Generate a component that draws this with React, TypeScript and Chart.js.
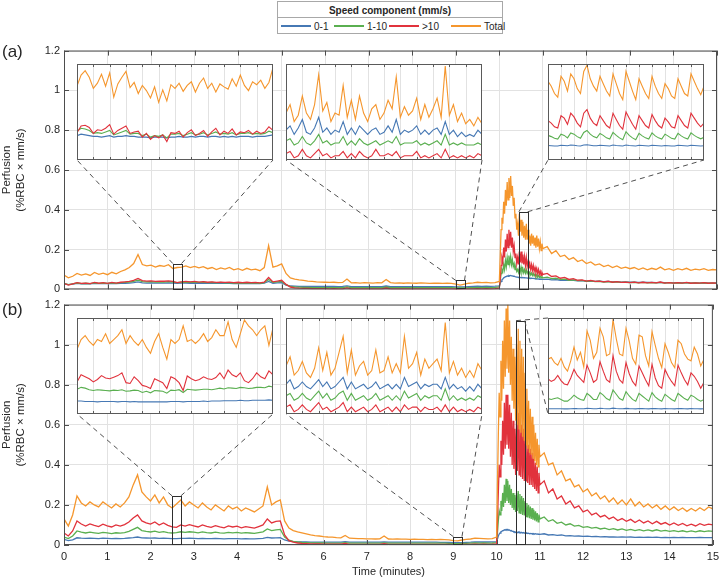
import React, { useEffect, useRef } from "react";
import { Chart, registerables } from "chart.js";
Chart.register(...registerables);

const FONT = '"Liberation Sans", Arial, Helvetica, sans-serif';
const TEXT = "#262626";
const GRID = "#e2e2e2";
const BOX = "#4d4d4d";

const C_BLUE = "#4678b4";
const C_GREEN = "#5aaf50";
const C_RED = "#e1323c";
const C_TOTAL = "#f5962d";

const legendTitle = "Speed component (mm/s)";
const legendLabels = ["0-1", "1-10", ">10", "Total"];
const legendColors = [C_BLUE, C_GREEN, C_RED, C_TOTAL];
const xAxisTitle = "Time (minutes)";
const yAxisTitle = ["Perfusion", "(%RBC \u00d7 mm/s)"];
const panelLabels = ["(a)", "(b)"];

// sampling grid of the main traces: [start min, step min, count]
const timeSegments = [[0, 0.1, 100], [10, 0.02, 50], [11, 0.1, 41]];
const timeGrid: number[] = timeSegments.flatMap(([s, st, n]) =>
  Array.from({ length: n }, (_, i) => +(s + i * st).toFixed(3))
);
// inset windows: 12 s sampled every 0.25 s
const INSET_STEP = 0.25;
const INSET_SECONDS = 12;

// ---------------- panel (a) ----------------
const aTotal = [
  0.072,0.058,0.066,0.080,0.072,0.078,0.070,0.085,0.076,0.082,
  0.074,0.086,0.078,0.090,0.098,0.110,0.130,0.175,0.125,0.118,
  0.122,0.112,0.120,0.116,0.124,0.105,0.110,0.112,0.118,0.110,
  0.116,0.108,0.114,0.104,0.110,0.100,0.108,0.102,0.110,0.098,
  0.104,0.096,0.106,0.098,0.102,0.094,0.110,0.220,0.112,0.118,
  0.128,0.080,0.058,0.052,0.048,0.045,0.042,0.040,0.038,0.037,
  0.036,0.035,0.036,0.034,0.035,0.052,0.033,0.034,0.032,0.034,
  0.033,0.032,0.034,0.033,0.050,0.034,0.032,0.033,0.031,0.033,
  0.032,0.031,0.033,0.032,0.030,0.032,0.031,0.030,0.032,0.030,
  0.026,0.022,0.027,0.031,0.033,0.036,0.034,0.035,0.033,0.034,
  // 10.00 - 10.98
  0.040,0.160,0.300,0.360,0.330,0.440,0.380,0.500,0.420,0.540,
  0.450,0.560,0.460,0.570,0.470,0.520,0.420,0.460,0.360,0.380,
  0.300,0.330,0.270,0.380,0.290,0.350,0.270,0.340,0.260,0.320,
  0.250,0.330,0.250,0.300,0.230,0.270,0.220,0.280,0.230,0.270,
  0.220,0.260,0.210,0.270,0.215,0.255,0.205,0.240,0.195,0.230,
  // 11.0 - 15.0
  0.205,0.215,0.180,0.195,0.165,0.172,0.150,0.160,0.140,0.148,
  0.130,0.138,0.122,0.128,0.115,0.122,0.110,0.118,0.106,0.112,
  0.104,0.110,0.100,0.108,0.098,0.106,0.100,0.112,0.098,0.104,
  0.096,0.104,0.098,0.106,0.096,0.102,0.098,0.104,0.096,0.100,0.098,
];
const aRed = [
  0.030,0.022,0.028,0.034,0.030,0.032,0.029,0.035,0.031,0.034,
  0.030,0.035,0.032,0.036,0.038,0.040,0.045,0.055,0.044,0.042,
  0.043,0.040,0.042,0.041,0.043,0.040,0.034,0.038,0.040,0.038,
  0.040,0.037,0.039,0.036,0.038,0.035,0.037,0.035,0.037,0.034,
  0.036,0.034,0.036,0.034,0.035,0.033,0.036,0.060,0.038,0.042,
  0.046,0.025,0.012,0.008,0.006,0.005,0.005,0.004,0.004,0.004,
  0.004,0.003,0.004,0.003,0.003,0.008,0.003,0.003,0.003,0.003,
  0.003,0.003,0.003,0.003,0.007,0.003,0.003,0.003,0.003,0.003,
  0.003,0.003,0.003,0.003,0.003,0.003,0.003,0.003,0.003,0.003,
  0.002,0.002,0.003,0.003,0.003,0.004,0.003,0.004,0.003,0.004,
  0.006,0.050,0.120,0.160,0.140,0.210,0.160,0.250,0.190,0.280,
  0.210,0.300,0.220,0.290,0.210,0.260,0.190,0.220,0.160,0.180,
  0.130,0.160,0.125,0.190,0.135,0.190,0.130,0.175,0.125,0.165,
  0.120,0.160,0.115,0.140,0.105,0.130,0.100,0.125,0.095,0.120,
  0.090,0.110,0.085,0.105,0.080,0.100,0.075,0.090,0.070,0.085,
  0.075,0.080,0.065,0.068,0.056,0.060,0.050,0.054,0.046,0.048,
  0.042,0.045,0.040,0.042,0.038,0.041,0.036,0.039,0.035,0.037,
  0.034,0.037,0.033,0.036,0.033,0.035,0.033,0.037,0.032,0.034,
  0.032,0.034,0.032,0.035,0.031,0.033,0.032,0.034,0.031,0.033,0.032,
];
const aGreen = [
  0.030,0.024,0.028,0.032,0.029,0.031,0.029,0.033,0.030,0.032,
  0.030,0.033,0.031,0.034,0.035,0.037,0.040,0.046,0.039,0.038,
  0.039,0.037,0.038,0.037,0.039,0.037,0.034,0.036,0.037,0.036,
  0.037,0.035,0.036,0.034,0.035,0.033,0.035,0.033,0.034,0.032,
  0.033,0.032,0.033,0.032,0.033,0.031,0.034,0.050,0.035,0.038,
  0.040,0.024,0.015,0.012,0.011,0.010,0.010,0.009,0.009,0.009,
  0.009,0.009,0.009,0.009,0.009,0.013,0.009,0.009,0.009,0.009,
  0.009,0.009,0.009,0.009,0.012,0.009,0.009,0.009,0.009,0.009,
  0.009,0.009,0.009,0.009,0.009,0.009,0.009,0.009,0.009,0.009,
  0.008,0.008,0.008,0.009,0.009,0.010,0.009,0.010,0.009,0.010,
  0.012,0.040,0.080,0.100,0.090,0.125,0.100,0.145,0.115,0.160,
  0.125,0.170,0.130,0.165,0.125,0.150,0.115,0.130,0.100,0.110,
  0.090,0.100,0.085,0.110,0.088,0.112,0.086,0.105,0.084,0.100,
  0.082,0.098,0.080,0.090,0.075,0.085,0.072,0.082,0.070,0.080,
  0.068,0.076,0.065,0.074,0.062,0.070,0.060,0.066,0.058,0.064,
  0.058,0.062,0.054,0.056,0.050,0.052,0.046,0.048,0.044,0.045,
  0.041,0.043,0.039,0.041,0.037,0.039,0.036,0.038,0.035,0.036,
  0.034,0.036,0.033,0.035,0.033,0.034,0.033,0.035,0.032,0.034,
  0.032,0.033,0.032,0.034,0.031,0.033,0.032,0.033,0.031,0.032,0.032,
];
const aBlue = [
  0.028,0.024,0.027,0.030,0.028,0.029,0.028,0.030,0.029,0.030,
  0.029,0.030,0.029,0.031,0.031,0.032,0.034,0.038,0.033,0.032,
  0.033,0.032,0.032,0.032,0.033,0.032,0.031,0.032,0.032,0.031,
  0.032,0.031,0.031,0.030,0.031,0.030,0.031,0.030,0.030,0.029,
  0.030,0.029,0.030,0.029,0.030,0.029,0.031,0.040,0.031,0.033,
  0.034,0.022,0.017,0.016,0.015,0.015,0.015,0.015,0.015,0.015,
  0.015,0.015,0.015,0.014,0.015,0.018,0.014,0.014,0.014,0.014,
  0.014,0.014,0.014,0.014,0.017,0.014,0.014,0.014,0.014,0.014,
  0.014,0.014,0.014,0.014,0.014,0.014,0.014,0.014,0.014,0.014,
  0.013,0.013,0.013,0.014,0.015,0.016,0.015,0.016,0.015,0.016,
  0.018,0.030,0.040,0.048,0.052,0.058,0.060,0.064,0.064,0.068,
  0.066,0.070,0.068,0.070,0.068,0.068,0.066,0.066,0.064,0.064,
  0.062,0.062,0.060,0.061,0.059,0.060,0.059,0.060,0.058,0.059,
  0.058,0.058,0.057,0.058,0.056,0.057,0.055,0.056,0.055,0.055,
  0.054,0.055,0.053,0.054,0.052,0.053,0.051,0.052,0.050,0.051,
  0.050,0.052,0.048,0.049,0.046,0.047,0.045,0.045,0.043,0.044,
  0.041,0.042,0.040,0.041,0.039,0.040,0.038,0.039,0.037,0.038,
  0.036,0.037,0.035,0.036,0.035,0.035,0.034,0.035,0.034,0.034,
  0.033,0.034,0.033,0.034,0.032,0.033,0.032,0.033,0.032,0.032,0.032,
];

// ---------------- panel (b) ----------------
const bTotal = [
  0.130,0.095,0.150,0.245,0.210,0.195,0.215,0.200,0.190,0.215,
  0.200,0.185,0.205,0.190,0.210,0.240,0.300,0.350,0.265,0.240,
  0.220,0.250,0.210,0.240,0.200,0.185,0.205,0.225,0.195,0.215,
  0.200,0.185,0.210,0.190,0.175,0.200,0.185,0.170,0.195,0.180,
  0.190,0.170,0.185,0.175,0.165,0.180,0.195,0.290,0.200,0.215,
  0.225,0.120,0.085,0.072,0.065,0.060,0.055,0.050,0.047,0.045,
  0.042,0.040,0.039,0.037,0.036,0.048,0.034,0.033,0.032,0.032,
  0.031,0.031,0.030,0.031,0.045,0.030,0.029,0.030,0.029,0.029,
  0.028,0.029,0.028,0.028,0.027,0.028,0.027,0.028,0.027,0.026,
  0.022,0.021,0.025,0.028,0.030,0.034,0.033,0.032,0.031,0.032,
  0.040,0.300,0.550,0.760,0.640,0.920,0.720,1.020,0.780,1.120,
  0.840,1.180,0.880,1.200,0.860,1.120,0.800,1.040,0.720,0.980,
  0.680,0.940,0.620,1.000,0.600,1.080,0.580,1.020,0.560,0.980,
  0.540,0.940,0.520,0.860,0.500,0.780,0.480,0.720,0.460,0.680,
  0.450,0.640,0.430,0.600,0.420,0.560,0.400,0.530,0.390,0.500,
  0.440,0.460,0.400,0.410,0.350,0.370,0.320,0.330,0.290,0.300,
  0.265,0.280,0.245,0.260,0.230,0.245,0.215,0.235,0.205,0.225,
  0.200,0.230,0.195,0.215,0.190,0.205,0.185,0.200,0.178,0.195,
  0.175,0.190,0.172,0.185,0.168,0.182,0.170,0.186,0.172,0.190,0.180,
];
const bRed = [
  0.060,0.045,0.070,0.120,0.105,0.095,0.105,0.098,0.092,0.104,
  0.096,0.090,0.100,0.094,0.102,0.115,0.135,0.150,0.120,0.110,
  0.104,0.115,0.100,0.110,0.098,0.090,0.088,0.100,0.094,0.102,
  0.096,0.090,0.100,0.093,0.088,0.097,0.091,0.086,0.095,0.090,
  0.094,0.086,0.092,0.088,0.084,0.092,0.100,0.130,0.110,0.118,
  0.120,0.050,0.022,0.014,0.010,0.008,0.007,0.006,0.005,0.005,
  0.004,0.004,0.004,0.004,0.004,0.008,0.003,0.003,0.003,0.003,
  0.003,0.003,0.003,0.003,0.007,0.003,0.003,0.003,0.003,0.003,
  0.003,0.003,0.003,0.003,0.003,0.003,0.003,0.003,0.003,0.003,
  0.002,0.002,0.003,0.003,0.003,0.004,0.003,0.004,0.003,0.004,
  0.006,0.120,0.260,0.400,0.340,0.520,0.400,0.620,0.450,0.710,
  0.480,0.750,0.500,0.750,0.480,0.700,0.440,0.660,0.400,0.620,
  0.380,0.580,0.350,0.620,0.370,0.660,0.350,0.620,0.340,0.600,
  0.330,0.580,0.320,0.540,0.320,0.520,0.310,0.500,0.300,0.480,
  0.300,0.460,0.290,0.430,0.280,0.410,0.270,0.390,0.260,0.360,
  0.300,0.320,0.260,0.280,0.230,0.245,0.205,0.220,0.185,0.195,
  0.165,0.175,0.150,0.160,0.140,0.148,0.130,0.140,0.122,0.132,
  0.118,0.128,0.112,0.125,0.110,0.120,0.106,0.118,0.104,0.112,
  0.100,0.110,0.098,0.108,0.096,0.104,0.095,0.106,0.098,0.104,0.100,
];
const bGreen = [
  0.040,0.032,0.045,0.070,0.064,0.060,0.064,0.061,0.058,0.063,
  0.060,0.057,0.061,0.059,0.062,0.068,0.078,0.088,0.072,0.068,
  0.065,0.069,0.063,0.067,0.062,0.060,0.062,0.066,0.063,0.066,
  0.064,0.061,0.065,0.062,0.060,0.064,0.061,0.059,0.063,0.061,
  0.063,0.059,0.062,0.060,0.058,0.062,0.066,0.080,0.072,0.076,
  0.078,0.040,0.024,0.018,0.015,0.013,0.012,0.011,0.010,0.010,
  0.010,0.009,0.009,0.009,0.009,0.012,0.009,0.009,0.009,0.009,
  0.009,0.009,0.009,0.009,0.011,0.009,0.009,0.009,0.009,0.009,
  0.009,0.009,0.009,0.009,0.009,0.009,0.009,0.009,0.009,0.008,
  0.007,0.007,0.008,0.008,0.009,0.010,0.009,0.010,0.009,0.010,
  0.012,0.060,0.120,0.170,0.150,0.220,0.170,0.260,0.190,0.300,
  0.210,0.330,0.220,0.320,0.210,0.300,0.200,0.280,0.185,0.260,
  0.175,0.250,0.165,0.260,0.170,0.270,0.160,0.255,0.155,0.245,
  0.150,0.235,0.148,0.220,0.142,0.210,0.138,0.200,0.134,0.192,
  0.130,0.184,0.126,0.176,0.122,0.168,0.118,0.160,0.115,0.152,
  0.130,0.140,0.118,0.126,0.108,0.114,0.100,0.106,0.094,0.098,
  0.088,0.092,0.084,0.088,0.080,0.084,0.077,0.082,0.075,0.080,
  0.073,0.078,0.072,0.077,0.071,0.075,0.070,0.076,0.069,0.073,
  0.068,0.072,0.067,0.071,0.066,0.070,0.066,0.071,0.067,0.070,0.068,
];
const bBlue = [
  0.028,0.022,0.026,0.036,0.034,0.033,0.034,0.033,0.032,0.034,
  0.033,0.032,0.033,0.032,0.033,0.035,0.037,0.040,0.036,0.035,
  0.034,0.035,0.033,0.034,0.033,0.032,0.032,0.033,0.033,0.034,
  0.033,0.032,0.033,0.032,0.032,0.033,0.032,0.031,0.032,0.032,
  0.032,0.031,0.032,0.031,0.031,0.032,0.033,0.038,0.035,0.036,
  0.037,0.025,0.019,0.017,0.016,0.015,0.015,0.014,0.014,0.014,
  0.014,0.014,0.014,0.014,0.014,0.017,0.014,0.014,0.014,0.014,
  0.014,0.014,0.014,0.014,0.016,0.014,0.014,0.014,0.014,0.014,
  0.014,0.014,0.014,0.014,0.014,0.014,0.014,0.013,0.013,0.013,
  0.012,0.012,0.012,0.013,0.014,0.016,0.015,0.016,0.015,0.016,
  0.016,0.030,0.045,0.055,0.060,0.066,0.068,0.072,0.072,0.076,
  0.074,0.078,0.075,0.078,0.074,0.075,0.071,0.072,0.068,0.069,
  0.065,0.066,0.062,0.064,0.061,0.065,0.061,0.064,0.060,0.063,
  0.060,0.062,0.059,0.061,0.058,0.060,0.057,0.059,0.056,0.058,
  0.056,0.058,0.055,0.057,0.054,0.056,0.054,0.055,0.053,0.054,
  0.053,0.056,0.050,0.052,0.048,0.050,0.046,0.047,0.044,0.045,
  0.043,0.044,0.042,0.043,0.041,0.042,0.040,0.041,0.039,0.040,
  0.039,0.040,0.038,0.039,0.038,0.039,0.038,0.039,0.037,0.038,
  0.037,0.038,0.037,0.038,0.037,0.037,0.037,0.038,0.037,0.037,0.037,
];

// ---------------- insets (49 samples, 0.25 s apart) ----------------
const a1Total = [
  0.100,0.115,0.121,0.112,0.097,0.104,0.116,0.100,0.118,0.085,
  0.103,0.112,0.120,0.098,0.105,0.090,0.101,0.094,0.084,0.099,
  0.078,0.095,0.080,0.102,0.097,0.104,0.093,0.101,0.106,0.092,
  0.104,0.111,0.097,0.104,0.092,0.103,0.099,0.096,0.110,0.100,
  0.115,0.101,0.094,0.106,0.102,0.108,0.097,0.105,0.125,
];
const a1Red = [
  0.037,0.046,0.047,0.044,0.036,0.041,0.040,0.043,0.048,0.035,
  0.040,0.043,0.046,0.036,0.038,0.039,0.031,0.036,0.028,0.033,
  0.030,0.034,0.025,0.037,0.036,0.039,0.031,0.037,0.041,0.033,
  0.036,0.040,0.032,0.038,0.043,0.034,0.039,0.036,0.042,0.034,
  0.038,0.037,0.040,0.035,0.039,0.036,0.038,0.045,0.040,
];
const a1Green = [
  0.039,0.043,0.042,0.040,0.036,0.037,0.036,0.038,0.040,0.034,
  0.036,0.038,0.040,0.035,0.036,0.036,0.033,0.035,0.031,0.033,
  0.032,0.034,0.030,0.035,0.035,0.036,0.033,0.035,0.037,0.034,
  0.035,0.037,0.034,0.036,0.038,0.035,0.036,0.035,0.037,0.034,
  0.036,0.036,0.037,0.035,0.036,0.035,0.036,0.039,0.037,
];
const a1Blue = [
  0.033,0.035,0.034,0.033,0.032,0.032,0.031,0.032,0.033,0.031,
  0.032,0.032,0.033,0.032,0.032,0.031,0.031,0.031,0.030,0.031,
  0.031,0.031,0.030,0.031,0.031,0.032,0.031,0.031,0.032,0.031,
  0.032,0.032,0.031,0.032,0.032,0.031,0.032,0.031,0.032,0.031,
  0.032,0.032,0.032,0.031,0.032,0.032,0.032,0.033,0.034,
];
const a2Total = [
  0.022,0.026,0.018,0.021,0.030,0.022,0.019,0.026,0.040,0.023,
  0.027,0.018,0.022,0.021,0.035,0.020,0.028,0.019,0.030,0.022,
  0.018,0.024,0.026,0.019,0.022,0.028,0.024,0.039,0.020,0.025,
  0.021,0.023,0.029,0.019,0.026,0.020,0.024,0.029,0.020,0.044,
  0.021,0.026,0.018,0.022,0.017,0.019,0.016,0.020,0.017,
];
const a2Blue = [
  0.014,0.016,0.012,0.015,0.019,0.013,0.012,0.015,0.020,0.013,
  0.015,0.012,0.014,0.013,0.018,0.012,0.015,0.012,0.016,0.014,
  0.012,0.014,0.015,0.012,0.013,0.016,0.013,0.019,0.012,0.014,
  0.013,0.014,0.016,0.012,0.014,0.012,0.014,0.015,0.012,0.018,
  0.012,0.014,0.011,0.013,0.011,0.012,0.011,0.014,0.012,
];
const a2Green = [
  0.009,0.010,0.007,0.008,0.011,0.008,0.007,0.009,0.012,0.008,
  0.009,0.007,0.008,0.008,0.011,0.007,0.009,0.007,0.010,0.008,
  0.007,0.008,0.009,0.007,0.008,0.009,0.008,0.011,0.007,0.008,
  0.008,0.008,0.009,0.007,0.008,0.007,0.008,0.009,0.007,0.012,
  0.007,0.008,0.007,0.008,0.007,0.007,0.007,0.008,0.007,
];
const a2Red = [
  0.003,0.004,0.001,0.002,0.005,0.002,0.001,0.003,0.005,0.002,
  0.003,0.001,0.002,0.002,0.004,0.001,0.003,0.001,0.004,0.002,
  0.001,0.002,0.005,0.002,0.002,0.003,0.002,0.004,0.001,0.002,
  0.002,0.002,0.004,0.001,0.002,0.001,0.002,0.003,0.001,0.005,
  0.001,0.002,0.001,0.002,0.001,0.002,0.001,0.003,0.002,
];
const a3Total = [
  0.320,0.300,0.270,0.255,0.340,0.320,0.280,0.350,0.330,0.290,
  0.270,0.360,0.385,0.330,0.300,0.280,0.340,0.310,0.280,0.260,
  0.350,0.310,0.270,0.245,0.360,0.320,0.280,0.245,0.330,0.300,
  0.270,0.250,0.340,0.300,0.270,0.250,0.310,0.290,0.260,0.250,
  0.330,0.300,0.270,0.260,0.350,0.320,0.290,0.265,0.300,
];
const a3Red = [
  0.160,0.150,0.135,0.130,0.180,0.170,0.145,0.190,0.175,0.150,
  0.135,0.190,0.205,0.170,0.150,0.140,0.180,0.160,0.140,0.130,
  0.190,0.165,0.140,0.125,0.195,0.170,0.145,0.125,0.180,0.160,
  0.140,0.130,0.185,0.160,0.140,0.130,0.170,0.155,0.135,0.130,
  0.180,0.160,0.140,0.130,0.190,0.170,0.150,0.135,0.150,
];
const a3Green = [
  0.100,0.095,0.088,0.085,0.105,0.100,0.090,0.110,0.105,0.095,
  0.088,0.112,0.120,0.105,0.095,0.090,0.108,0.100,0.090,0.085,
  0.112,0.100,0.090,0.082,0.115,0.100,0.090,0.082,0.108,0.098,
  0.090,0.085,0.110,0.098,0.090,0.085,0.105,0.097,0.088,0.085,
  0.108,0.098,0.090,0.085,0.110,0.100,0.092,0.086,0.092,
];
const a3Blue = [
  0.059,0.058,0.057,0.057,0.060,0.059,0.058,0.061,0.060,0.058,
  0.057,0.061,0.062,0.060,0.058,0.058,0.060,0.059,0.058,0.057,
  0.061,0.059,0.058,0.057,0.061,0.059,0.058,0.057,0.060,0.059,
  0.058,0.057,0.060,0.059,0.058,0.057,0.059,0.058,0.057,0.057,
  0.060,0.059,0.058,0.057,0.060,0.059,0.058,0.057,0.058,
];
const b1Total = [
  0.165,0.190,0.200,0.185,0.175,0.190,0.185,0.205,0.180,0.190,
  0.200,0.215,0.180,0.200,0.185,0.175,0.190,0.170,0.155,0.185,
  0.205,0.170,0.140,0.190,0.180,0.190,0.225,0.185,0.190,0.180,
  0.190,0.205,0.185,0.195,0.215,0.200,0.200,0.235,0.190,0.170,
  0.205,0.240,0.225,0.215,0.200,0.215,0.225,0.175,0.220,
];
const b1Red = [
  0.082,0.100,0.095,0.090,0.082,0.088,0.098,0.092,0.090,0.094,
  0.098,0.105,0.080,0.078,0.095,0.085,0.073,0.070,0.065,0.090,
  0.085,0.080,0.065,0.095,0.090,0.080,0.060,0.097,0.090,0.085,
  0.088,0.095,0.090,0.088,0.093,0.105,0.090,0.112,0.100,0.095,
  0.105,0.085,0.080,0.090,0.105,0.095,0.090,0.110,0.100,
];
const b1Green = [
  0.063,0.068,0.066,0.062,0.060,0.062,0.061,0.060,0.059,0.061,
  0.060,0.062,0.058,0.059,0.061,0.060,0.055,0.058,0.054,0.060,
  0.059,0.058,0.053,0.061,0.060,0.062,0.055,0.063,0.062,0.061,
  0.062,0.063,0.063,0.062,0.064,0.066,0.064,0.067,0.066,0.065,
  0.068,0.067,0.065,0.066,0.068,0.068,0.067,0.071,0.069,
];
const b1Blue = [
  0.033,0.033,0.032,0.032,0.032,0.031,0.032,0.032,0.032,0.032,
  0.031,0.032,0.032,0.031,0.032,0.031,0.031,0.031,0.031,0.031,
  0.031,0.031,0.031,0.032,0.032,0.032,0.031,0.032,0.032,0.032,
  0.032,0.033,0.032,0.033,0.033,0.033,0.034,0.034,0.034,0.034,
  0.035,0.034,0.034,0.035,0.035,0.035,0.035,0.036,0.035,
];
const b2Total = [
  0.021,0.025,0.017,0.019,0.023,0.018,0.016,0.020,0.029,0.019,
  0.027,0.017,0.020,0.027,0.034,0.018,0.028,0.017,0.021,0.023,
  0.017,0.019,0.028,0.018,0.019,0.025,0.018,0.022,0.018,0.034,
  0.020,0.022,0.027,0.017,0.024,0.020,0.022,0.024,0.019,0.040,
  0.018,0.023,0.017,0.020,0.016,0.019,0.016,0.022,0.019,
];
const b2Blue = [
  0.013,0.015,0.011,0.012,0.014,0.012,0.011,0.013,0.015,0.012,
  0.014,0.011,0.012,0.014,0.016,0.011,0.014,0.011,0.012,0.013,
  0.011,0.012,0.014,0.011,0.012,0.013,0.011,0.013,0.011,0.016,
  0.012,0.013,0.014,0.011,0.013,0.012,0.013,0.013,0.011,0.016,
  0.011,0.013,0.011,0.012,0.010,0.012,0.010,0.013,0.011,
];
const b2Green = [
  0.008,0.009,0.006,0.007,0.009,0.007,0.006,0.008,0.010,0.007,
  0.009,0.006,0.007,0.009,0.010,0.006,0.009,0.006,0.007,0.008,
  0.006,0.007,0.009,0.006,0.007,0.008,0.006,0.008,0.006,0.010,
  0.007,0.008,0.009,0.006,0.008,0.007,0.008,0.008,0.006,0.011,
  0.006,0.008,0.006,0.007,0.006,0.007,0.006,0.008,0.007,
];
const b2Red = [
  0.003,0.004,0.001,0.002,0.004,0.002,0.001,0.003,0.005,0.002,
  0.003,0.001,0.002,0.003,0.005,0.001,0.003,0.001,0.002,0.003,
  0.001,0.002,0.004,0.001,0.002,0.003,0.001,0.003,0.001,0.004,
  0.002,0.003,0.003,0.001,0.003,0.002,0.002,0.003,0.001,0.004,
  0.001,0.003,0.001,0.002,0.001,0.002,0.001,0.003,0.002,
];
const b3Total = [
  0.640,0.660,0.600,0.570,0.650,0.550,0.500,0.620,0.780,0.630,
  0.720,0.550,0.970,0.860,0.650,0.720,1.000,0.900,0.680,0.700,
  1.100,0.880,0.700,0.680,1.000,0.850,0.650,0.580,0.920,0.900,
  0.680,0.560,0.960,0.800,0.650,0.540,0.820,0.720,0.600,0.540,
  0.860,0.820,0.700,0.640,0.620,0.780,0.700,0.560,0.640,
];
const b3Red = [
  0.410,0.380,0.400,0.450,0.390,0.350,0.340,0.420,0.520,0.450,
  0.410,0.370,0.570,0.480,0.370,0.400,0.610,0.500,0.400,0.370,
  0.680,0.500,0.400,0.360,0.600,0.470,0.380,0.330,0.560,0.480,
  0.400,0.330,0.580,0.420,0.330,0.300,0.520,0.440,0.380,0.330,
  0.570,0.480,0.400,0.340,0.480,0.440,0.380,0.300,0.370,
];
const b3Green = [
  0.180,0.170,0.180,0.190,0.170,0.150,0.150,0.180,0.220,0.190,
  0.170,0.160,0.240,0.210,0.170,0.170,0.250,0.220,0.180,0.160,
  0.280,0.230,0.180,0.160,0.260,0.210,0.170,0.150,0.240,0.210,
  0.180,0.150,0.250,0.200,0.170,0.150,0.230,0.200,0.170,0.150,
  0.240,0.210,0.180,0.160,0.220,0.200,0.170,0.150,0.170,
];
const b3Blue = [
  0.062,0.061,0.061,0.062,0.061,0.060,0.060,0.062,0.065,0.063,
  0.062,0.061,0.066,0.064,0.062,0.061,0.067,0.064,0.062,0.061,
  0.068,0.064,0.062,0.061,0.066,0.063,0.061,0.060,0.065,0.063,
  0.061,0.060,0.065,0.063,0.061,0.060,0.064,0.062,0.061,0.060,
  0.065,0.063,0.061,0.060,0.064,0.062,0.061,0.060,0.061,
];

// ---------------- layout ----------------
const W = 724, H = 579;
const CANVAS_A = { top: 40, height: 260, padTop: 9, xAxisH: 10 };
const CANVAS_B = { top: 294, height: 285, padTop: 10, xAxisH: 34 };

const insetsA = [
  { box: { left: 77, top: 64, width: 196, height: 96 }, t0: 2.5, t1: 2.7, ymax: 0.13,
    series: [a1Total, a1Red, a1Green, a1Blue], links: [["TL", "BL"], ["TR", "BR"]] },
  { box: { left: 286, top: 64, width: 196, height: 96 }, t0: 9.0, t1: 9.2, ymax: 0.045,
    series: [a2Total, a2Red, a2Green, a2Blue], links: [["TL", "BL"], ["TR", "BR"]] },
  { box: { left: 548, top: 64, width: 156, height: 96 }, t0: 10.45, t1: 10.65, ymax: 0.39,
    series: [a3Total, a3Red, a3Green, a3Blue], links: [["TL", "BL"], ["TR", "BR"]] },
];
const insetsB = [
  { box: { left: 77, top: 318, width: 196, height: 96 }, t0: 2.5, t1: 2.7, ymax: 0.245,
    series: [b1Total, b1Red, b1Green, b1Blue], links: [["TL", "BL"], ["TR", "BR"]] },
  { box: { left: 286, top: 318, width: 196, height: 96 }, t0: 9.0, t1: 9.2, ymax: 0.042,
    series: [b2Total, b2Red, b2Green, b2Blue], links: [["TL", "BL"], ["TR", "BR"]] },
  { box: { left: 548, top: 318, width: 156, height: 96 }, t0: 10.45, t1: 10.65, ymax: 1.12,
    series: [b3Total, b3Red, b3Green, b3Blue], links: [["TL", "TL"], ["TR", "BL"]] },
];
const allInsets = [...insetsA, ...insetsB];
const drawColors = [C_TOTAL, C_RED, C_GREEN, C_BLUE]; // first is drawn on top

const mainDecor = {
  id: "mainDecor",
  afterDatasetsDraw(chart: any, _a: any, opts: any) {
    const { ctx, chartArea, scales } = chart;
    const { left, right, top, bottom } = chartArea;
    const xs = scales.x, ys = scales.y;
    ctx.save();
    ctx.lineWidth = 1;
    ctx.strokeStyle = BOX;
    ctx.setLineDash([]);
    ctx.beginPath();
    for (let t = 0; t <= 15; t++) {
      const px = Math.round(xs.getPixelForValue(t)) + 0.5;
      ctx.moveTo(px, bottom); ctx.lineTo(px, bottom - 5);
      ctx.moveTo(px, top); ctx.lineTo(px, top + 5);
    }
    for (let k = 0; k <= 6; k++) {
      const py = Math.round(ys.getPixelForValue(k * 0.2)) + 0.5;
      ctx.moveTo(left, py); ctx.lineTo(left + 5, py);
      ctx.moveTo(right, py); ctx.lineTo(right - 5, py);
    }
    ctx.stroke();
    ctx.strokeRect(left + 0.5, top + 0.5, right - left - 1, bottom - top - 1);

    for (const w of opts.windows) {
      const x0 = xs.getPixelForValue(w.t0), x1 = xs.getPixelForValue(w.t1);
      const yT = ys.getPixelForValue(w.ymax), yB = ys.getPixelForValue(0);
      ctx.setLineDash([]);
      ctx.strokeStyle = "#2e2e2e";
      ctx.strokeRect(Math.round(x0) + 0.5, Math.round(yT) + 0.5, Math.round(x1 - x0), Math.round(yB - yT) - 1);
      const rc: any = { TL: [x0, yT], TR: [x1, yT] };
      const b = w.box, oy = opts.canvasTop;
      const ic: any = {
        TL: [b.left, b.top - oy], TR: [b.left + b.width, b.top - oy],
        BL: [b.left, b.top + b.height - oy], BR: [b.left + b.width, b.top + b.height - oy],
      };
      ctx.setLineDash([5, 4]);
      ctx.strokeStyle = "#505050";
      ctx.beginPath();
      for (const [r, i] of w.links) {
        ctx.moveTo(rc[r][0], rc[r][1]);
        ctx.lineTo(ic[i][0], ic[i][1]);
      }
      ctx.stroke();
    }
    ctx.restore();
  },
};

const insetDecor = {
  id: "insetDecor",
  beforeDatasetsDraw(chart: any) {
    const { ctx, chartArea, scales } = chart;
    const { left, right, top, bottom } = chartArea;
    ctx.save();
    ctx.fillStyle = "#ffffff";
    ctx.fillRect(left, top, right - left, bottom - top);
    ctx.strokeStyle = GRID;
    ctx.lineWidth = 1;
    ctx.beginPath();
    for (let s = 1; s < INSET_SECONDS; s++) {
      const px = Math.round(scales.x.getPixelForValue(s)) + 0.5;
      ctx.moveTo(px, top); ctx.lineTo(px, bottom);
    }
    ctx.stroke();
    ctx.restore();
  },
  afterDatasetsDraw(chart: any) {
    const { ctx, chartArea, scales } = chart;
    const { left, right, top, bottom } = chartArea;
    ctx.save();
    ctx.strokeStyle = "#5a5a5a";
    ctx.lineWidth = 1;
    ctx.beginPath();
    for (let s = 1; s < INSET_SECONDS; s++) {
      const px = Math.round(scales.x.getPixelForValue(s)) + 0.5;
      ctx.moveTo(px, top); ctx.lineTo(px, top + 3);
      ctx.moveTo(px, bottom); ctx.lineTo(px, bottom - 3);
    }
    ctx.stroke();
    ctx.strokeRect(left + 0.5, top + 0.5, right - left - 1, bottom - top - 1);
    ctx.restore();
  },
};

function mainConfig(series: number[][], showX: boolean, geom: any, windows: any[]): any {
  const tickFont = { family: FONT, size: 11 };
  return {
    type: "line",
    data: {
      datasets: series.map((ys, k) => ({
        data: ys.map((y, i) => ({ x: timeGrid[i], y })),
        borderColor: drawColors[k],
        borderWidth: 1.3,
        pointRadius: 0,
        tension: 0,
        fill: false,
      })),
    },
    options: {
      animation: false,
      responsive: false,
      maintainAspectRatio: false,
      devicePixelRatio: 1,
      events: [],
      layout: { padding: { left: 0, right: 7, top: geom.padTop, bottom: 0 } },
      plugins: {
        legend: { display: false },
        tooltip: { enabled: false },
        mainDecor: { windows, canvasTop: geom.top },
      },
      scales: {
        x: {
          type: "linear", min: 0, max: 15,
          grid: { color: GRID, drawTicks: false },
          border: { display: false },
          ticks: { display: showX, stepSize: 1, color: TEXT, font: tickFont, padding: 5, maxRotation: 0, autoSkip: false },
          title: { display: showX, text: xAxisTitle, color: TEXT, font: tickFont, padding: { top: 2, bottom: 0 } },
          afterFit: (s: any) => { s.height = geom.xAxisH; },
        },
        y: {
          min: 0, max: 1.2,
          grid: { color: GRID, drawTicks: false },
          border: { display: false },
          ticks: { stepSize: 0.2, color: TEXT, font: tickFont, padding: 4, callback: (v: number) => String(Math.round(v * 10) / 10) },
          title: { display: true, text: yAxisTitle, color: TEXT, font: { family: FONT, size: 11.5, lineHeight: "14px" }, padding: { top: 0, bottom: 0 } },
          afterFit: (s: any) => { s.width = 64; },
        },
      },
    },
    plugins: [mainDecor],
  };
}

function insetConfig(inset: any): any {
  return {
    type: "line",
    data: {
      datasets: inset.series.map((ys: number[], k: number) => ({
        data: ys.map((y, i) => ({ x: i * INSET_STEP, y })),
        borderColor: drawColors[k],
        borderWidth: 1.1,
        pointRadius: 0,
        tension: 0,
        fill: false,
      })),
    },
    options: {
      animation: false,
      responsive: false,
      maintainAspectRatio: false,
      devicePixelRatio: 1,
      events: [],
      layout: { padding: 0 },
      plugins: { legend: { display: false }, tooltip: { enabled: false } },
      scales: {
        x: { type: "linear", min: 0, max: INSET_SECONDS, display: false },
        y: { min: 0, max: inset.ymax, display: false },
      },
    },
    plugins: [insetDecor],
  };
}

const legendItemX = [3, 56, 111, 173];

export default function App() {
  const refA = useRef<HTMLCanvasElement | null>(null);
  const refB = useRef<HTMLCanvasElement | null>(null);
  const insetRefs = useRef<(HTMLCanvasElement | null)[]>([]);

  useEffect(() => {
    const charts: Chart[] = [];
    charts.push(new Chart(refA.current as any, mainConfig([aTotal, aRed, aGreen, aBlue], false, CANVAS_A, insetsA)));
    charts.push(new Chart(refB.current as any, mainConfig([bTotal, bRed, bGreen, bBlue], true, CANVAS_B, insetsB)));
    allInsets.forEach((ins, i) => {
      const c = insetRefs.current[i];
      if (c) charts.push(new Chart(c as any, insetConfig(ins)));
    });
    return () => charts.forEach((c) => c.destroy());
  }, []);

  return (
    <div style={{ position: "fixed", left: 0, top: 0, width: W, height: H, background: "#fff", overflow: "hidden", fontFamily: FONT, color: TEXT }}>
      <canvas ref={refA} width={W} height={CANVAS_A.height} style={{ position: "absolute", left: 0, top: CANVAS_A.top }} />
      <canvas ref={refB} width={W} height={CANVAS_B.height} style={{ position: "absolute", left: 0, top: CANVAS_B.top }} />
      {allInsets.map((ins, i) => (
        <canvas
          key={i}
          ref={(el) => { insetRefs.current[i] = el; }}
          width={ins.box.width}
          height={ins.box.height}
          style={{ position: "absolute", left: ins.box.left, top: ins.box.top, background: "#fff" }}
        />
      ))}
      <div style={{ position: "absolute", left: 2, top: 43, fontSize: 17, lineHeight: "18px" }}>{panelLabels[0]}</div>
      <div style={{ position: "absolute", left: 2, top: 301, fontSize: 17, lineHeight: "18px" }}>{panelLabels[1]}</div>
      <div style={{ position: "absolute", left: 277, top: 1, width: 226, height: 33, border: "1px solid #a8a8a8", boxSizing: "border-box", background: "#fff" }}>
        <div style={{ position: "absolute", left: 0, right: 0, top: 3, textAlign: "center", fontSize: 10, fontWeight: "bold", lineHeight: "12px" }}>{legendTitle}</div>
        <div style={{ position: "absolute", left: 0, right: 0, top: 15, borderTop: "1px solid #a8a8a8" }} />
        {legendLabels.map((lab, i) => (
          <div key={lab} style={{ position: "absolute", left: legendItemX[i], top: 18, height: 12, display: "flex", alignItems: "center", fontSize: 10, whiteSpace: "nowrap" }}>
            <span style={{ display: "inline-block", width: 30, height: 2, background: legendColors[i], marginRight: 3 }} />
            <span>{lab}</span>
          </div>
        ))}
      </div>
    </div>
  );
}
